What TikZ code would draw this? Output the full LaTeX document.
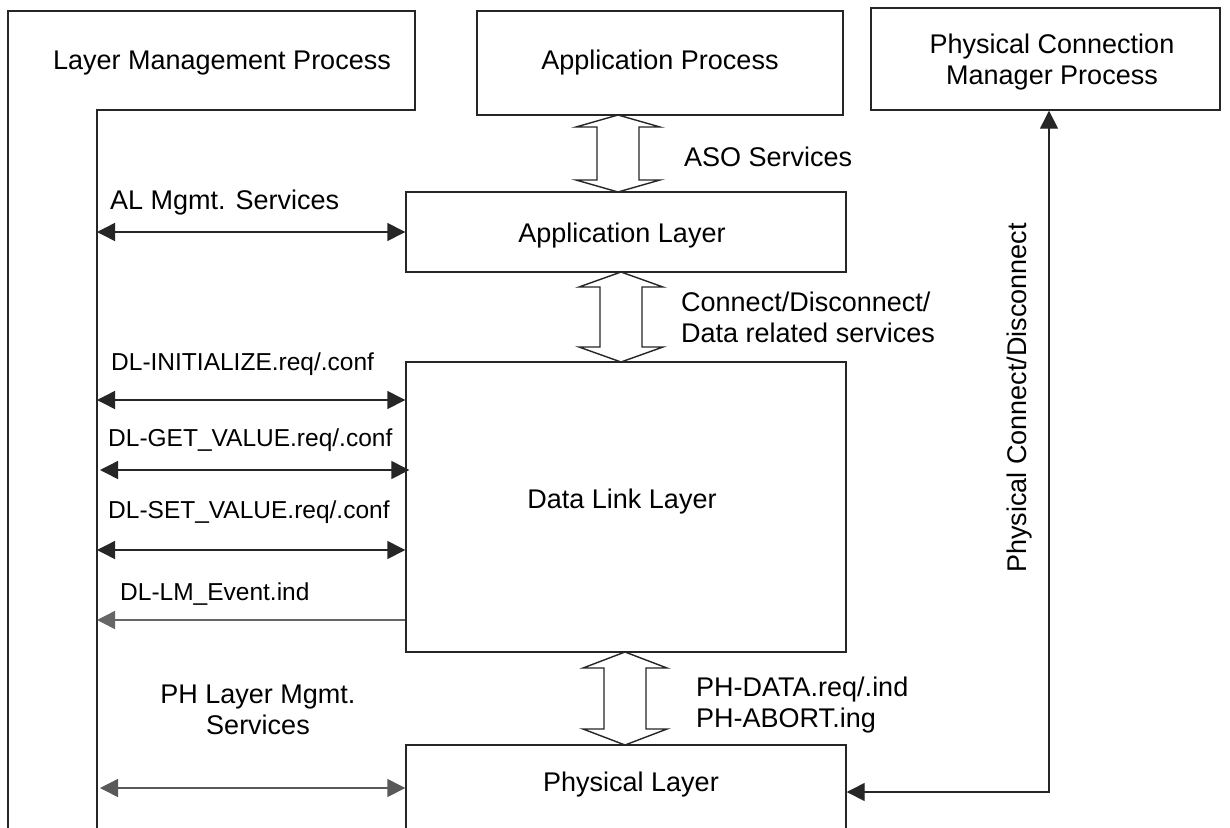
\documentclass[tikz,border=0pt]{standalone}
\usepackage{fontspec}
\setmainfont{Liberation Sans}
\usetikzlibrary{arrows.meta,calc}
\newcommand\hollowarr[4]{%
  \draw[hollow] (#1,#2) -- (#1+42,#2+#4) -- (#1+21,#2+#4) -- (#1+21,#3-#4) -- (#1+42,#3-#4) -- (#1,#3)
    -- (#1-42,#3-#4) -- (#1-21,#3-#4) -- (#1-21,#2+#4) -- (#1-42,#2+#4) -- cycle;}
\begin{document}
\begin{tikzpicture}[x=1pt,y=-1pt,
  line/.style={draw=black!85, line width=1.4pt},
  box/.style={line, rectangle, inner sep=0},
  lbl/.style={font=\fontsize{27}{31}\selectfont, inner sep=0, align=center},
  llbl/.style={font=\fontsize{27}{31}\selectfont, inner sep=0, align=left, anchor=west},
  slbl/.style={font=\fontsize{24.5}{28}\selectfont, inner sep=0, anchor=west},
  biarrow/.style={line, {Triangle[length=18pt,width=18pt]}-{Triangle[length=18pt,width=18pt]}},
  hollow/.style={line, fill=white, line join=miter}
]
\useasboundingbox (0,0) rectangle (1230,827);
\path[clip] (0,0) rectangle (1230,827);
\fill[white] (0,0) rectangle (1230,827);

% Layer management process (L-shaped)
\draw[line] (8,840) -- (8,11) -- (415,11) -- (415,110) -- (97,110) -- (97,840);
\coordinate (lm) at (97,110);
\node[lbl] (lmp) at (222,63) {Layer Management Process};

% Boxes
\node[box, minimum width=366pt, minimum height=104pt] (ap) at (660,63) {};
\node[lbl] (aptext) at (660,63) {Application Process};
\node[box, minimum width=349pt, minimum height=102pt] (pcm) at (1045.5,59) {};
\node[lbl] (pcmtext) at (1052,62) {Physical Connection\\Manager Process};
\node[box, minimum width=440pt, minimum height=80pt] (al) at (626,232) {};
\node[lbl] (altext) at (622,236) {Application Layer};
\node[box, minimum width=440pt, minimum height=290pt] (dll) at (626,507) {};
\node[lbl] (dlltext) at (622,502) {Data Link Layer};
\node[box, minimum width=440pt, minimum height=120pt] (phl) at (626,805) {};
\node[lbl] (phltext) at (631,785) {Physical Layer};

% Hollow service arrows
\hollowarr{618}{115}{192}{12}
\hollowarr{621}{272}{362}{15}
\hollowarr{625}{652}{745}{16}
\node[llbl] (aso) at (684,157) {ASO Services};
\node[llbl] (cdd) at (681,317) {Connect/Disconnect/\\Data related services};
\node[llbl] (phd) at (696,705) {PH-DATA.req/.ind\\PH-ABORT.ing};

% Management arrows
\node[llbl] (almg) at (110,203) {AL Mgmt. Services};
\draw[biarrow] (lm |- al.west) -- (al.west);
\node[slbl] (dli) at (111,364) {DL-INITIALIZE.req/.conf};
\draw[biarrow] (lm |- 0,400) -- (dll.west |- 0,400);
\node[slbl] (dlg) at (108,440) {DL-GET\_VALUE.req/.conf};
\draw[biarrow] ($(lm |- 0,470)+(3,0)$) -- ($(dll.west |- 0,470)+(4,0)$);
\node[slbl] (dls) at (108,512) {DL-SET\_VALUE.req/.conf};
\draw[biarrow] (lm |- 0,550) -- (dll.west |- 0,550);
\node[slbl] (dle) at (120,594) {DL-LM\_Event.ind};
\draw[line, draw=black!60, -{Triangle[length=18pt,width=18pt]}] (dll.west |- 0,620) -- (lm |- 0,620);
\node[lbl] (phm) at (258,710) {PH Layer Mgmt.\\Services};
\draw[biarrow, draw=black!65] ($(lm |- 0,788)+(3,0)$) -- (phl.west |- 0,788);

% Physical connect/disconnect
\coordinate (bend) at (1049,792);
\draw[biarrow] (pcm.south -| bend) -- (bend) -- (phl.east |- bend);
\node[lbl, rotate=90] (pcd) at (1020,398) {Physical Connect/Disconnect};
\end{tikzpicture}
\end{document}
